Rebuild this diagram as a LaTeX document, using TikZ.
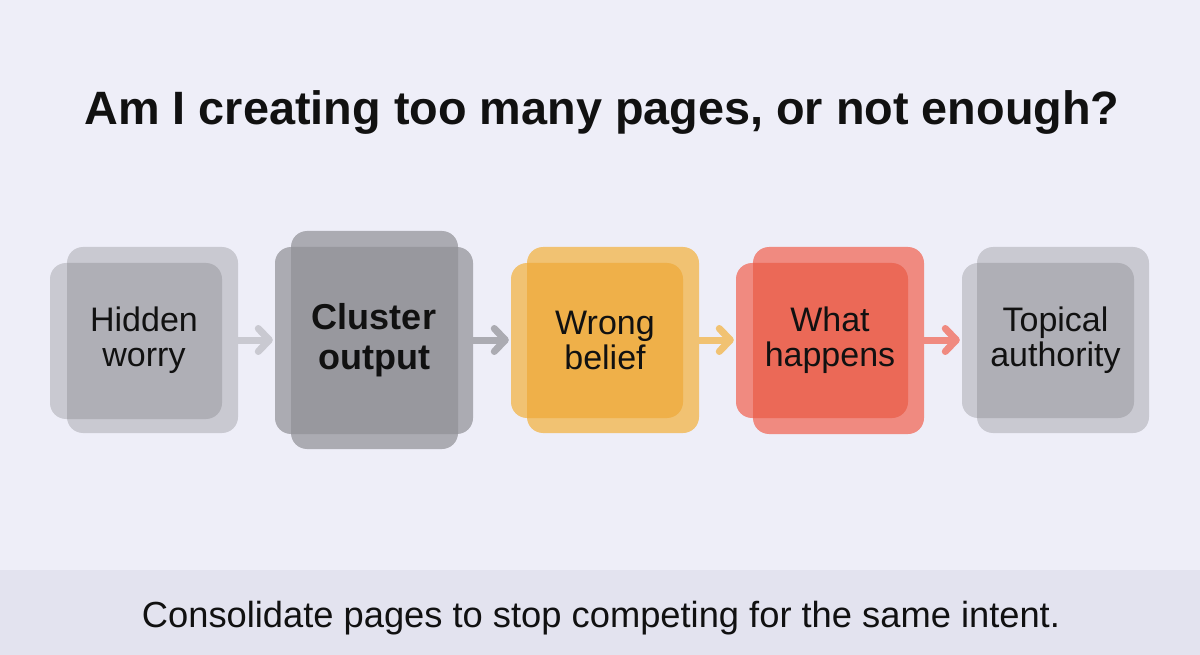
\documentclass[tikz,border=0pt]{standalone}
\usepackage{fontspec}
\setmainfont{Liberation Sans}
\usetikzlibrary{arrows.meta}
\definecolor{bgc}{HTML}{EEEEF8}
\definecolor{bandc}{HTML}{E3E3EF}
\definecolor{gAs}{HTML}{C9C9D1}
\definecolor{gAo}{HTML}{AFAFB6}
\definecolor{gBs}{HTML}{ABABB2}
\definecolor{gBo}{HTML}{98989E}
\definecolor{orS}{HTML}{F1C272}
\definecolor{orO}{HTML}{EFB049}
\definecolor{rdS}{HTML}{F08A80}
\definecolor{rdO}{HTML}{EB6957}
\definecolor{txt}{HTML}{111111}
\tikzset{
  rc/.style={rounded corners=16pt},
  lab/.style={text=txt, align=center, inner sep=0pt, font=\fontsize{34}{35}\selectfont},
  labbold/.style={lab, font=\fontsize{36}{40}\selectfont\bfseries},
  conn/.style={line width=7pt, line cap=round, line join=round,
    -{Straight Barb[round, length=11pt, width=23pt]}, shorten >=2pt}
}
\begin{document}
\begin{tikzpicture}[x=1pt,y=-1pt]
\useasboundingbox (0,0) rectangle (1200,655);
\fill[bgc] (0,0) rectangle (1200,655);
\fill[bandc] (0,570) rectangle (1200,655);

% title
\node[text=txt, font=\fontsize{46.8}{50}\selectfont\bfseries, anchor=base] (title) at (602,125) {Am I creating too many pages, or not enough?};

% label nodes (union extents)
\node[lab, minimum width=188pt, minimum height=186pt] (b1) at (144,340) {};
\node[labbold, minimum width=198pt, minimum height=218pt] (b2) at (374,340) {};
\node[lab, minimum width=188pt, minimum height=186pt] (b3) at (605,340) {};
\node[lab, minimum width=188pt, minimum height=187pt] (b4) at (830,340) {};
\node[lab, minimum width=187pt, minimum height=186pt] (b5) at (1055.5,340) {};

% connectors (behind boxes)
\draw[conn, gAs] (b1.east) -- (b2.west);
\draw[conn, gBs] (b2.east) -- (b3.west);
\draw[conn, orS] (b3.east) -- (b4.west);
\draw[conn, rdS] (b4.east) -- (b5.west);

% box 1
\fill[gAs, rc] (67,247) rectangle (238,433);
\fill[gAs, rc] (50,263) rectangle (222,419);
\begin{scope}\clip[rc] (67,247) rectangle (238,433);
\fill[gAo, rc] (50,263) rectangle (222,419);\end{scope}
% box 2
\fill[gBs, rc] (291,231) rectangle (458,449);
\fill[gBs, rc] (275,247) rectangle (473,434);
\begin{scope}\clip[rc] (291,231) rectangle (458,449);
\fill[gBo, rc] (275,247) rectangle (473,434);\end{scope}
% box 3
\fill[orS, rc] (527,247) rectangle (699,433);
\fill[orS, rc] (511,263) rectangle (683,418);
\begin{scope}\clip[rc] (527,247) rectangle (699,433);
\fill[orO, rc] (511,263) rectangle (683,418);\end{scope}
% box 4
\fill[rdS, rc] (753,247) rectangle (924,434);
\fill[rdS, rc] (736,263) rectangle (908,418);
\begin{scope}\clip[rc] (753,247) rectangle (924,434);
\fill[rdO, rc] (736,263) rectangle (908,418);\end{scope}
% box 5
\fill[gAs, rc] (977,247) rectangle (1149,433);
\fill[gAs, rc] (962,263) rectangle (1134,418);
\begin{scope}\clip[rc] (977,247) rectangle (1149,433);
\fill[gAo, rc] (962,263) rectangle (1134,418);\end{scope}

% texts
\node[lab] (t1) at (b1.center) {Hidden\\worry};
\node[labbold] (t2) at (b2.center) {Cluster\\output};
\node[lab] (t3) at (b3.center) {Wrong\\belief};
\node[lab] (t4) at (b4.center) {What\\happens};
\node[lab] (t5) at (b5.center) {Topical\\authority};

% footer
\node[text=txt, font=\fontsize{36.3}{40}\selectfont, anchor=base] (foot) at (601,627) {Consolidate pages to stop competing for the same intent.};
\end{tikzpicture}
\end{document}
